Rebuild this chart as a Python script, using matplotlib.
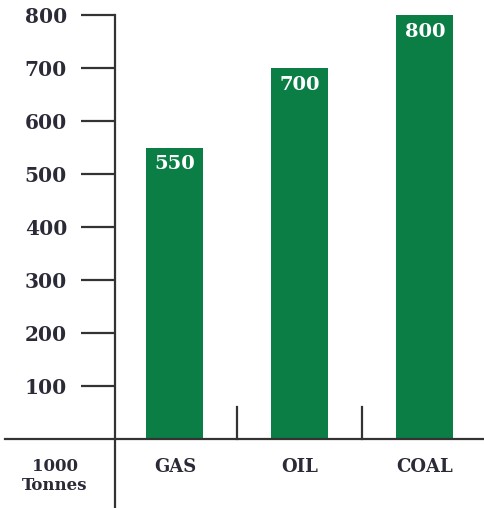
import matplotlib
matplotlib.use("Agg")
import matplotlib.pyplot as plt
from matplotlib.lines import Line2D

categories = ["GAS", "OIL", "COAL"]
values = [550, 700, 800]
yticks = [100, 200, 300, 400, 500, 600, 700, 800]
unit_label = "1000\nTonnes"

green = "#0b7e46"
ink = "#2b2b38"
line_c = "#333333"
font = "DejaVu Serif"

W, H = 485, 508
fig = plt.figure(figsize=(W / 100, H / 100), dpi=100)
ax_l, ax_r, ax_b, ax_t = 115, 485, 69, 493
ax = fig.add_axes([ax_l / W, ax_b / H, (ax_r - ax_l) / W, (ax_t - ax_b) / H])

x = list(range(len(categories)))
ax.bar(x, values, width=0.456, color=green, zorder=2)
ax.set_xlim(-0.48, 2.48)
ax.set_ylim(0, 800)

for s in ["top", "right", "bottom"]:
    ax.spines[s].set_visible(False)
ax.spines["left"].set_color(line_c)
ax.spines["left"].set_linewidth(1.6)

ax.set_yticks(yticks)
ax.set_yticklabels([str(v) for v in yticks], fontfamily=font, fontweight="bold",
                   fontsize=14.5, color=ink)
ax.tick_params(axis="y", direction="out", length=24.5, width=1.6, color=line_c, pad=10)
ax.set_xticks([])

# extended baseline and axis line
axw = ax_r - ax_l
axh = ax_t - ax_b
ax.add_line(Line2D([(5 - ax_l) / axw, 1.0], [0, 0], transform=ax.transAxes,
                   color=line_c, lw=1.6, clip_on=False, zorder=3))
ax.add_line(Line2D([0, 0], [0, -ax_b / axh], transform=ax.transAxes,
                   color=line_c, lw=1.6, clip_on=False, zorder=3))

# separators between categories
for sep in [0.5, 1.5]:
    ax.plot([sep, sep], [0, 60], color=line_c, lw=1.6, clip_on=False, zorder=3)

# value labels inside bars
for xi, v in zip(x, values):
    ax.annotate(str(v), (xi, v), xytext=(0, -12), textcoords="offset points",
                ha="center", va="center", color="white", fontfamily=font,
                fontweight="bold", fontsize=14, zorder=4)

# category labels below baseline
for xi, c in zip(x, categories):
    ax.annotate(c, (xi, 0), xytext=(0, -20.5), textcoords="offset points",
                ha="center", va="center", color=ink, fontfamily=font,
                fontweight="bold", fontsize=13, annotation_clip=False)

fig.text(55 / W, 1 - 476 / H, unit_label, ha="center", va="center", color=ink,
         fontfamily=font, fontweight="bold", fontsize=12, linespacing=1.2)

fig.savefig("out.png", dpi=100, facecolor="white")
